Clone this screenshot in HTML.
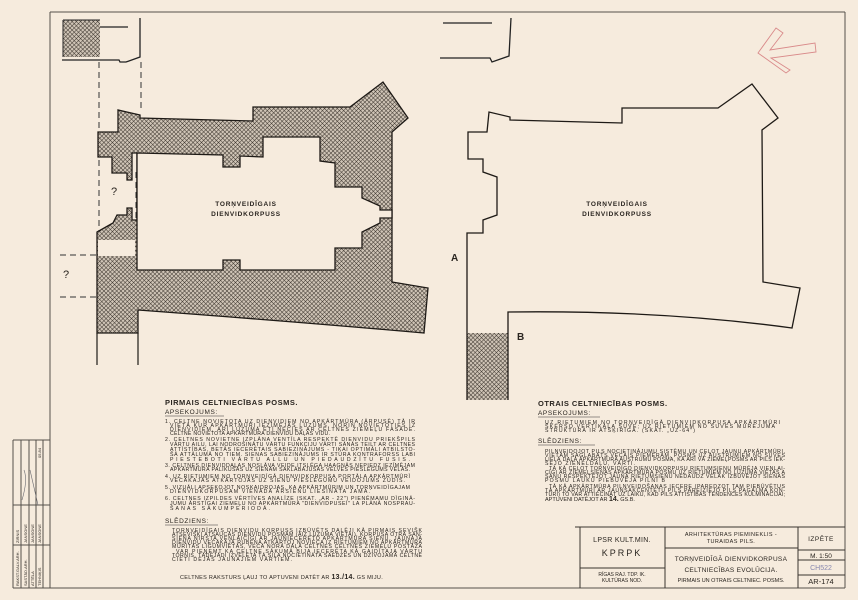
<!DOCTYPE html>
<html><head><meta charset="utf-8"><style>
html,body{margin:0;padding:0;background:#f6ebdd;}
svg{display:block;}
text{font-family:"Liberation Sans",sans-serif;fill:#2a2520;}
</style></head><body>
<svg width="858" height="600" viewBox="0 0 858 600" xmlns="http://www.w3.org/2000/svg">
<defs>
<pattern id="h" width="3" height="3" patternUnits="userSpaceOnUse" patternTransform="rotate(45)">
<rect width="3" height="3" fill="#cfc4b6"/>
<line x1="0" y1="0" x2="0" y2="3" stroke="#3a332c" stroke-width="1"/>
<line x1="0" y1="0" x2="3" y2="0" stroke="#3a332c" stroke-width="1"/>
</pattern>
</defs>
<rect width="858" height="600" fill="#f6ebdd"/>
<!-- frame -->
<g stroke="#55504a" fill="none" stroke-width="1">
<line x1="50" y1="12" x2="845" y2="12"/>
<line x1="845" y1="12" x2="845" y2="588"/>
<line x1="13" y1="588" x2="845" y2="588"/>
<line x1="50" y1="12" x2="50" y2="588"/>
<line x1="13" y1="440" x2="13" y2="588"/>
<line x1="13" y1="440" x2="50" y2="440"/>
<line x1="21" y1="440" x2="21" y2="588"/>
<line x1="29" y1="440" x2="29" y2="588"/>
<line x1="36" y1="440" x2="36" y2="588"/>
<line x1="43" y1="440" x2="43" y2="588"/>
<line x1="13" y1="505" x2="50" y2="505"/>
<line x1="13" y1="545" x2="50" y2="545"/>
</g>
<g font-size="4" transform="rotate(-90)">
<text x="-586" y="19">RAKST.GALV.ARH.</text><text x="-543" y="19">ZIRNIS</text>
<text x="-586" y="27">SASTĀD.ARH.</text><text x="-543" y="27">JANSONE</text>
<text x="-586" y="34">ATTĒLA</text><text x="-543" y="34">JANSONE</text>
<text x="-586" y="41">TEHNIĶIS</text><text x="-543" y="41">JANSONE</text>
<text x="-458" y="41">05.84</text>
</g>
<path d="M22 500 Q28 480 24 470 M38 505 L30 470" stroke="#6a6a70" fill="none" stroke-width="0.6"/>

<!-- left top block -->
<rect x="63" y="20" width="37" height="37" fill="url(#h)"/>
<path d="M63 20 L63 57 M63 20 L100 20" stroke="#222" fill="none"/>
<path d="M62 60 L119 60 L120 62 L126 62 L140 57 L140 18" stroke="#222" fill="none" stroke-width="1.3"/>
<line x1="100" y1="27" x2="128" y2="27" stroke="#222" stroke-width="1.2"/>
<!-- dashed -->
<g stroke="#333" stroke-dasharray="6,4" fill="none">
<line x1="99" y1="62" x2="99" y2="130"/><line x1="141" y1="62" x2="141" y2="112"/>
<line x1="99" y1="160" x2="99" y2="232"/><line x1="136" y1="172" x2="136" y2="222"/>
<line x1="60" y1="255" x2="97" y2="255"/><line x1="60" y1="297" x2="97" y2="297"/>
</g>
<text x="111" y="195" font-size="11">?</text>
<text x="63" y="278" font-size="11">?</text>

<!-- left plan -->
<path d="M98 132 L118 132 L118 110 L140 115 L140 118 L253 121 L253 107 L350 107 L383 82 L408 118 L392 132 L392 282 L428 288 L424 333 Q300 322 138 310 L138 333 L97 333 L97 232 L113 223 L117 215 L127 215 L127 208 L132 208 L132 220 L137 220 L137 153 L132 153 L132 180 L127 180 L127 173 L112 173 L112 157 L98 157 Z" fill="url(#h)" stroke="#1e1a16" stroke-width="1.3"/>
<path d="M137 153 L223 155 L223 167 L240 167 L240 156 L263 157 L263 137 L320 137 L320 161 L335 163 L335 187 L362 187 L362 198 L380 206 L380 210 L392 210 L392 218 L380 218 L380 223 L362 232 L362 248 L335 248 L335 270 L240 270 L240 260 L223 260 L223 270 L137 270 Z" fill="#f6ebdd" stroke="#1e1a16" stroke-width="1.3"/>
<rect x="98" y="240" width="37" height="16" fill="#f6ebdd"/>
<g stroke="#1e1a16" stroke-width="1.2"><line x1="97" y1="333" x2="97" y2="365"/><line x1="138" y1="333" x2="138" y2="365"/></g>
<text x="246" y="206" font-size="6.5" font-weight="bold" text-anchor="middle" letter-spacing="0.8">TORŅVEIDĪGAIS</text>
<text x="246" y="216" font-size="6.5" font-weight="bold" text-anchor="middle" letter-spacing="0.8">DIENVIDKORPUSS</text>

<!-- right top fragment -->
<g stroke="#222" stroke-width="1.3" fill="none">
<line x1="443" y1="23" x2="492" y2="23"/>
<path d="M440 58 L490 58 L492 62 L509 56 L511 18"/>
</g>
<!-- right plan -->
<rect x="467" y="333" width="41" height="67" fill="url(#h)"/>
<path d="M467 400 L467 233 L483 233 L483 220 L497 215 L497 177 L483 172 L483 159 L468 159 L468 132 L487 132 L489 112 L510 117 L510 120 L622 123 L622 108 L718 108 L752 84 L778 118 L762 130 L763 282 L800 288 L792 328 Q660 310 508 312 L508 400" fill="none" stroke="#1e1a16" stroke-width="1.3"/>
<text x="617" y="206" font-size="6.5" font-weight="bold" text-anchor="middle" letter-spacing="0.8">TORŅVEIDĪGAIS</text>
<text x="617" y="216" font-size="6.5" font-weight="bold" text-anchor="middle" letter-spacing="0.8">DIENVIDKORPUSS</text>
<text x="451" y="261" font-size="10" font-weight="bold">A</text>
<text x="517" y="340" font-size="10" font-weight="bold">B</text>

<!-- north arrow -->
<path d="M758 53 L776 28 L783 33 L770 50 L815 43 L816 52 L771 58 L790 70 L786 73 Z" fill="none" stroke="#d98a8a" stroke-width="0.9"/>

<!-- left text -->
<g font-size="5.2">
<text x="165" y="405" font-size="7.5" font-weight="bold" letter-spacing="0.5">PIRMAIS CELTNIECĪBAS POSMS.</text>
<text x="165" y="414" font-size="6.5" letter-spacing="0.6">APSEKOJUMS:</text>
<line x1="165" y1="416" x2="224" y2="416" stroke="#333" stroke-width="0.6"/>
<text x="165" y="423" textLength="250">1. CELTNE NOVIETOTA UZ DIENVIDIEM NO APKĀRTMŪRA (ĀRPUSĒ) TĀ IR</text>
<text x="170" y="427" textLength="245">VIETĀ KUR APKĀRTMŪRI IEZĪMĒJAS LŪZUMS, NORIN NOVIETOTIES IZ</text>
<text x="170" y="431" textLength="245">DIENVIDIEM, ĀRI LŪZUMĀ ĒTĪ NECIES AR CELTNES ZIEMEĻU FASĀDE.</text>
<text x="170" y="435" textLength="160">CELTNE NOVIETOTA APKĀRTMŪRA DIENVIDU DAĻAS VIDŪ.</text>
<text x="165" y="441" textLength="250">2. CELTNES NOVIETNE IZPLĀNA VENTĪLA RESPEKTĒ DIENVIDU PRIEKŠPILS</text>
<text x="170" y="446" textLength="245">VĀRTU AILU, LAI NODROŠINĀTU VĀRTU FUNKCIJU VĀRTI SĀNĀS TEILT AR CELTNES</text>
<text x="170" y="451" textLength="245">ATTĪSTĪBAS, BETĀS IECERĒTAIS SABIEZINĀJUMS - TIKAI OPTIMĀLI ATBILSTO-</text>
<text x="170" y="456" textLength="245">ŠĀ ATTĀLUMĀ NO TIEM. SIENAS SABIEZINĀJUMS IR STŪRA KONTRAFORSS LABI</text>
<text x="170" y="461" textLength="240">PIESTEBOTI VĀRTU ALLU UN PIEDAUDZĪTU FUSIS.</text>
<text x="165" y="467" textLength="250">3. CELTNES DIENVIDDAĻAS NOSLĀVA VEIDE ITSLĒGA HAAGNĀS NEPIEDZ IEZĪMĒJAM</text>
<text x="170" y="471" textLength="240">APKĀRTMŪRA PALIKUŠĀS UZ SIENĀM SAKLĀBAJUŠAS VELVES PIESLĒGUMS VĒLĀS.</text>
<text x="165" y="478" textLength="245">4. UZ RIETUMIEM NO TORŅVEIDĪGĀ DIENVIDKORPUSA PORTĀLA APKĀRTMŪRĪ</text>
<text x="170" y="482" textLength="235">VECĀKAJĀS ATKĀRTOJAS UZ SIENU PIESLĒGUMU VEIDOJUMS ZUDIS.</text>
<text x="165" y="489" textLength="245">5. VIZUĀLI APSEKOJOT NOSKAIDROJAS, KA APKĀRTMŪRIM UN TORŅVEIDĪGAJAM</text>
<text x="170" y="493" textLength="200">DIENVIDKORPUSAM VIENĀDA ĀRSIENU LIESINĀTA JAMA.</text>
<text x="165" y="500" textLength="250">6. CELTNES IZPILDES VĒRTĪVES ANALĪZE (SKAT. „AR - 22") PIENĒMAMU DĪGINĀ-</text>
<text x="170" y="505" textLength="245">JUMU ĀRSTĪGAI ZIEMEĻU NO APKĀRTMŪRA "DIENVIDPUSEI" LA PLĀNĀ NOSPRAU-</text>
<text x="170" y="510" textLength="100">ŠANAS SĀKUMPERIODĀ.</text>
<text x="165" y="523" font-size="6.5" letter-spacing="0.6">SLĒDZIENS:</text>
<line x1="165" y1="525" x2="218" y2="525" stroke="#333" stroke-width="0.6"/>
<text x="172" y="532" textLength="250">TORŅVEIDĪGAIS DIENVIDU KORPUSS IZBŪVĒTS DAĻĒJI KĀ PIRMAIS SEVIŠĶ</text>
<text x="172" y="536" textLength="250">ATSEVIŠĶI ATSAUCAS DIENVIDU POSMAM (AIZ LŪZUMA VIETAI), KORPUSA OTRA SĀN-</text>
<text x="172" y="540" textLength="250">SIENA NIRSTA VENLAICĪGI AR JAUNIECERĒTO APKĀRTMŪRA SIENU. JAUNAJĀ</text>
<text x="172" y="544" textLength="250">DIENVIDU VECĀKAJĀ RUBENA ATKĀRTOJ NOVIĒCA IZ RIETUMIEM NO APKĀRTMŪRA</text>
<text x="172" y="548" textLength="250">MŪRĪTĀS LĪGUMVIETĀS, VECĀ NORA DAĻĀ CELTNES CELTNĒS ZIEMEĻU POSTĀŽA</text>
<text x="176" y="553" textLength="246">VAR PIEŅEMT KA CELTNE SĀKUMĀ BIJA IECERĒTA KĀ GAIDĪTAJA VĀRTU</text>
<text x="172" y="557" textLength="250">TORNIS, TĀDĒJĀDI IZVĒLĒTA TĀ SILA NOCIETINĀTA SAEDZES UN DZĪVOJAMĀ CELTNE</text>
<text x="172" y="561" textLength="120">CIETI DĒJĀS JAUNAJIEM VĀRTIEM.</text>
<text x="180" y="579" font-size="5.5" letter-spacing="0.3">CELTNES RAKSTURS ĻAUJ TO APTUVENI  DATĒT AR <tspan font-weight="bold" font-size="7">13./14.</tspan> GS MIJU.</text>
</g>

<!-- right text -->
<g font-size="5.2">
<text x="538" y="406" font-size="7.5" font-weight="bold" letter-spacing="0.5">OTRAIS CELTNIECĪBAS POSMS.</text>
<text x="538" y="415" font-size="6.5" letter-spacing="0.6">APSEKOJUMS:</text>
<line x1="538" y1="417" x2="600" y2="417" stroke="#333" stroke-width="0.6"/>
<text x="545" y="424" textLength="235">UZ RIETUMIEM NO TORŅVEIDĪGĀ DIENVIDKORPUSA APKĀRTMŪRI</text>
<text x="545" y="428" textLength="230">ŠĶĒRSO VERTIKĀLA ŠUVE; UZ RIETUMIEM NO ŠUVES MŪREJUMA</text>
<text x="545" y="432" textLength="150">STRUKTŪRA IR ATŠĶIRĪGA. (SKAT. „UZ-64")</text>
<text x="538" y="443" font-size="6.5" letter-spacing="0.6">SLĒDZIENS:</text>
<line x1="538" y1="445" x2="595" y2="445" stroke="#333" stroke-width="0.6"/>
<text x="545" y="453" textLength="240">PILNVEIDOJOT PILS NOCIETINĀJUMU SISTĒMU UN CEĻOT JAUNU APKĀRTMŪRI,</text>
<text x="545" y="457" textLength="240">VIETĀM SAGLABĀTS VECAIS PIEMĒRAM, POSMS UZ AUSTRUMIEM NO ŠUVES</text>
<text x="545" y="461" textLength="240">LIELĀ DAĻĀ APKĀRTMŪRA AUSTRUMU POSMA, KĀ ARĪ VĀ ZIEMEĻPOSMS AR PILS IEK-</text>
<text x="545" y="465" textLength="90">ŠĒJO ZIENELDAĻU, VĀRTI.</text>
<text x="549" y="470" textLength="236">TĀ KĀ CELOT TORŅVEIDĪGO DIENVIDKORPUSU RIETUMSIENU MŪRĒJA VIENLAI-</text>
<text x="545" y="474" textLength="240">CĪGI AR ZIEMEĻSIENAS APKĀRTMŪRA POSMU UZ RIETUMIEM NO LŪZUMA VIETAS A</text>
<text x="545" y="478" textLength="240">SĀNU RESPEKTĒJOT JAUNĀ RIETUMSIENU NEDAUDZ VĒLĀK IZBŪVĒJOT SIENAS</text>
<text x="545" y="482" textLength="120">POSMU LAUKU PIEBŪVĒJA PILNĪ B</text>
<text x="549" y="488" textLength="236">TĀ KĀ APKĀRTMŪRA PILNVEIDOŠANAS IECERE (PAREDZOT TAM PIEBŪVĒTUS</text>
<text x="545" y="492" textLength="240">TĀ APKĀRTMŪRĪ AR JAUNSAKCENTĒTU PILS PAREIZIEJO PILS PAGALMA KON-</text>
<text x="545" y="496" textLength="240">TŪRI) TO VAR ATTIECINĀT UZ LAIKU, KAD PILS ATTĪSTĪBAS TENDENCES KULMINĀCIJAI;</text>
<text x="545" y="501" font-size="5.5">APTUVENI DATĒJOT AR <tspan font-weight="bold" font-size="7">14.</tspan> GS.B.</text>
</g>

<!-- title block -->
<g stroke="#3a3530" fill="none" stroke-width="1">
<line x1="575" y1="527" x2="845" y2="527"/>
<line x1="580" y1="527" x2="580" y2="588"/>
<line x1="665" y1="527" x2="665" y2="588"/>
<line x1="798" y1="527" x2="798" y2="588"/>
<line x1="580" y1="568" x2="665" y2="568"/>
<line x1="665" y1="548" x2="798" y2="548"/>
<line x1="798" y1="550" x2="845" y2="550"/>
<line x1="798" y1="560" x2="845" y2="560"/>
<line x1="798" y1="575" x2="845" y2="575"/>
</g>
<g font-size="5.5" text-anchor="middle">
<text x="622" y="542" font-size="7" letter-spacing="0.3">LPSR KULT.MIN.</text>
<text x="622" y="556" font-size="9" letter-spacing="2">KPRPK</text>
<text x="622" y="576" font-size="5">RĪGAS RAJ. TDP. IK.</text>
<text x="622" y="582" font-size="5">KULTŪRAS NOD.</text>
<text x="731" y="536" letter-spacing="0.4">ARHITEKTŪRAS  PIEMINEKLIS -</text>
<text x="731" y="543" letter-spacing="0.4">TURAIDAS PILS.</text>
<text x="731" y="561" font-size="6.5" letter-spacing="0.3">TORŅVEIDĪGĀ DIENVIDKORPUSA</text>
<text x="731" y="572" font-size="6.5" letter-spacing="0.3">CELTNIECĪBAS EVOLŪCIJA.</text>
<text x="731" y="582" font-size="5.5">PIRMAIS UN OTRAIS CELTNIEC. POSMS.</text>
<text x="821" y="541" font-size="6.5" letter-spacing="0.5">IZPĒTE</text>
<text x="821" y="558" font-size="6.5">M. 1:50</text>
<text x="821" y="570" font-size="7" fill="#8888b0" style="fill:#8888b0">CH522</text>
<text x="821" y="584" font-size="7.5">AR-174</text>
</g>
</svg>
</body></html>
